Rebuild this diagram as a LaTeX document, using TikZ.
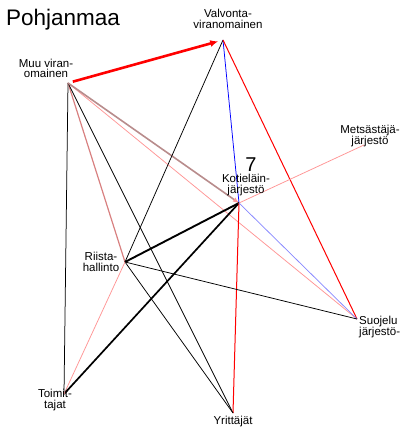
\documentclass[tikz,border=0pt]{standalone}
\usepackage{fontspec}
\setmainfont{Liberation Sans}
\usepackage{tikz}
\usetikzlibrary{arrows.meta}

\definecolor{rose}{HTML}{D88080}
\definecolor{rosybr}{HTML}{B88C8C}
\definecolor{lpink}{HTML}{FF9595}
\definecolor{lblue}{HTML}{8888FF}

\begin{document}
\begin{tikzpicture}[x=1pt,y=-1pt,
	  lbl/.style={align=center,inner sep=0pt,font=\fontsize{11.5}{10.5}\selectfont},
	  tie/.style={line width=0.75pt}]
	  \useasboundingbox (0,0) rectangle (405,430);

	  % meeting points
	  \coordinate (muu) at (68,83);
	  \coordinate (valvo) at (223,40);
	  \coordinate (metsa) at (364,145);
	  \coordinate (kotiel) at (239,203);
	  \coordinate (riista) at (125,262);
	  \coordinate (suojelu) at (357,319);
	  \coordinate (toimit) at (64,394);
	  \coordinate (yritt) at (233,413);

	  \draw[tie, black] (muu)--(toimit);
	  \draw[tie, rose, line width=1.2pt] (muu)--(riista);
	  \draw[tie, black] (muu)--(yritt);
	  \draw[tie, lpink] (muu)--(suojelu);
	  \draw[rosybr, line width=1.6pt, -{Latex[length=6pt,width=5pt,color=lpink]}] (muu)--(kotiel);
	  \draw[red, line width=2.6pt, -{Latex[length=8pt,width=7pt]}, shorten <=5pt, shorten >=5pt] (muu)--(valvo);

	  \draw[tie, black] (valvo)--(riista);
	  \draw[tie, blue] (valvo)--(kotiel);
	  \draw[tie, red, line width=1pt] (valvo)--(suojelu);

	  \draw[tie, lpink] (metsa)--(kotiel);

	  \draw[black, line width=1.9pt] (kotiel)--(riista);
	  \draw[black, line width=1.7pt] (kotiel)--(toimit);
	  \draw[tie, red, line width=1pt] (kotiel)--(yritt);
	  \draw[tie, lblue] (kotiel)--(suojelu);

	  \draw[tie, black] (riista)--(suojelu);
	  \draw[tie, black] (riista)--(yritt);
	  \draw[tie, lpink] (riista)--(toimit);

	  % labels
	  \node[anchor=base west,inner sep=0pt,font=\fontsize{22.5}{24}\selectfont] (title) at (6,26) {Pohjanmaa};
	  \node[lbl] (muulbl) at (46,68.5) {Muu viran-\\omainen};
	  \node[lbl] (valvolbl) at (228,19) {Valvonta-\\viranomainen};
	  \node[lbl] (metsalbl) at (370,136) {Metsästäjä-\\järjestö};
	  \node[inner sep=0pt,font=\fontsize{20}{22}\selectfont] (seven) at (251,164.5) {7};
	  \node[lbl] (kotiellbl) at (246,185) {Kotieläin-\\järjestö};
	  \node[lbl] (riistalbl) at (101,262) {Riista-\\hallinto};
	  \node[lbl,align=left,anchor=west] (suojelulbl) at (359,327) {Suojelu\\järjestö-};
	  \node[lbl] (toimitlbl) at (55,400) {Toimit-\\tajat};
	  \node[lbl] (yrittlbl) at (233,422) {Yrittäjät};
\end{tikzpicture}
\end{document}
